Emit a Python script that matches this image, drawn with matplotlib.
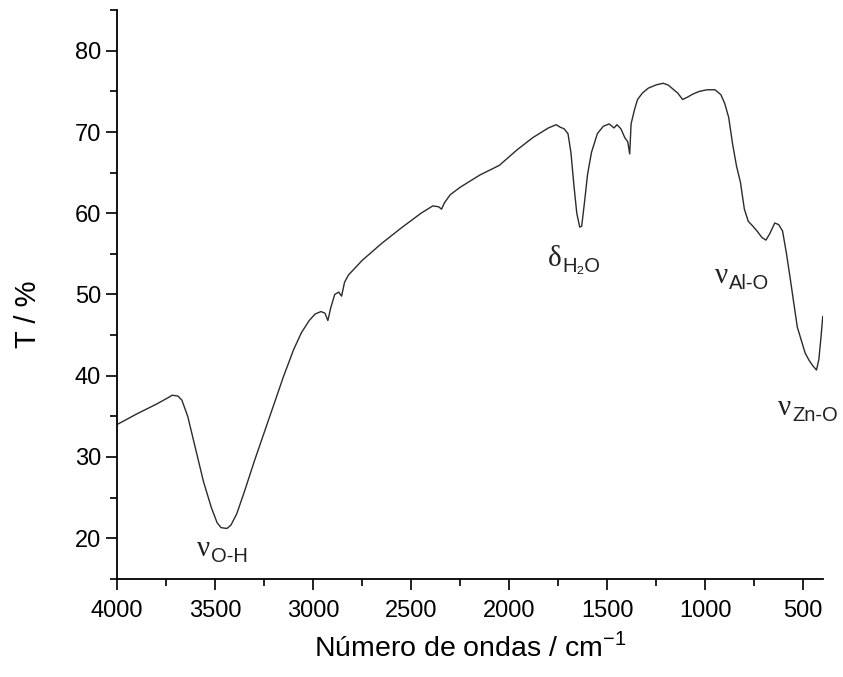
import numpy as np
import matplotlib.pyplot as plt
from matplotlib.ticker import MultipleLocator

plt.rcParams['font.family'] = ['Liberation Sans', 'DejaVu Sans']
plt.rcParams['mathtext.fontset'] = 'custom'
plt.rcParams['mathtext.rm'] = 'Liberation Sans'

# FTIR spectrum
wavenumber = [4000, 3900, 3800, 3740, 3720, 3690, 3670, 3640, 3600, 3560, 3520, 3490,
              3470, 3440, 3420, 3390, 3350, 3300, 3250, 3200, 3150, 3100, 3060, 3020,
              2990, 2960, 2940, 2925, 2910, 2890, 2870, 2855, 2840, 2820, 2750, 2650,
              2550, 2450, 2390, 2360, 2345, 2330, 2300, 2250, 2150, 2050, 1960, 1880,
              1800, 1760, 1740, 1720, 1700, 1685, 1670, 1655, 1640, 1630, 1615, 1600,
              1580, 1550, 1520, 1490, 1465, 1450, 1430, 1410, 1395, 1385, 1378, 1360,
              1345, 1320, 1290, 1250, 1215, 1190, 1165, 1140, 1115, 1090, 1060, 1030,
              990, 950, 920, 900, 880, 860, 840, 820, 800, 780, 760, 735, 710, 690,
              670, 645, 625, 605, 585, 565, 550, 530, 515, 490, 470, 450, 432, 420,
              410, 400]
transmittance = [34.0, 35.3, 36.5, 37.3, 37.6, 37.5, 37.0, 35.0, 31.0, 27.0, 23.8, 21.9,
                 21.3, 21.2, 21.6, 23.0, 25.8, 29.5, 33.0, 36.5, 40.0, 43.2, 45.3, 46.8,
                 47.6, 47.9, 47.7, 46.8, 48.4, 50.0, 50.3, 49.8, 51.5, 52.4, 54.2, 56.3,
                 58.2, 60.0, 60.9, 60.8, 60.5, 61.3, 62.3, 63.2, 64.7, 65.9, 67.8, 69.3,
                 70.5, 70.9, 70.6, 70.4, 69.8, 67.5, 63.5, 60.0, 58.3, 58.4, 61.5, 64.8,
                 67.5, 69.8, 70.7, 71.0, 70.5, 70.9, 70.4, 69.3, 68.8, 67.3, 71.0, 72.8,
                 74.0, 74.8, 75.4, 75.8, 76.0, 75.8, 75.3, 74.8, 74.0, 74.3, 74.7, 75.0,
                 75.2, 75.2, 74.6, 73.5, 71.8, 68.5, 65.8, 63.8, 60.5, 59.0, 58.5, 57.8,
                 57.0, 56.7, 57.5, 58.8, 58.6, 57.8, 55.0, 51.8, 49.3, 46.0, 44.8, 42.8,
                 41.9, 41.2, 40.7, 42.0, 44.5, 47.3]

# band labels: symbol, subscript
band_symbols = ['ν', 'δ', 'ν', 'ν']
band_subs = ['O-H', 'H₂O', 'Al-O', 'Zn-O']
band_pos = [(3592, 17.8), (1801, 53.5), (949, 51.4), (628, 35.2)]

fig = plt.figure(figsize=(8.43, 6.77), dpi=100)
ax = fig.add_axes([0.139, 0.145, 0.837, 0.84])

ax.plot(wavenumber, transmittance, color='#2b2b2b', lw=1.0)

ax.set_xlim(4000, 400)
ax.set_ylim(15, 85)
ax.xaxis.set_major_locator(MultipleLocator(500))
ax.xaxis.set_minor_locator(MultipleLocator(250))
ax.yaxis.set_major_locator(MultipleLocator(10))
ax.yaxis.set_minor_locator(MultipleLocator(5))
ax.spines['top'].set_visible(False)
ax.spines['right'].set_visible(False)
for s in ['left', 'bottom']:
    ax.spines[s].set_linewidth(1.3)
ax.tick_params(which='major', length=8, width=1.3, labelsize=17, color='#111111')
ax.tick_params(which='minor', length=5, width=1.3, color='#111111')
ax.tick_params(axis='x', pad=7)

ax.set_xlabel('Número de ondas / cm$^{\\mathrm{-1}}$', fontsize=20.5, labelpad=8)
ax.set_ylabel('T / %', fontsize=21)
ax.yaxis.set_label_coords(-0.106, 0.466)

for sym, sub, (x, y) in zip(band_symbols, band_subs, band_pos):
    ax.text(x, y, sym, fontsize=21, family=['Liberation Serif', 'DejaVu Serif'],
            ha='left', va='baseline', color='#222222')
    ax.annotate(sub, xy=(x, y), xycoords='data', xytext=(10, -4.5), textcoords='offset points',
                fontsize=14.5, ha='left', va='baseline', color='#222222')

fig.savefig('out.png', dpi=100)
